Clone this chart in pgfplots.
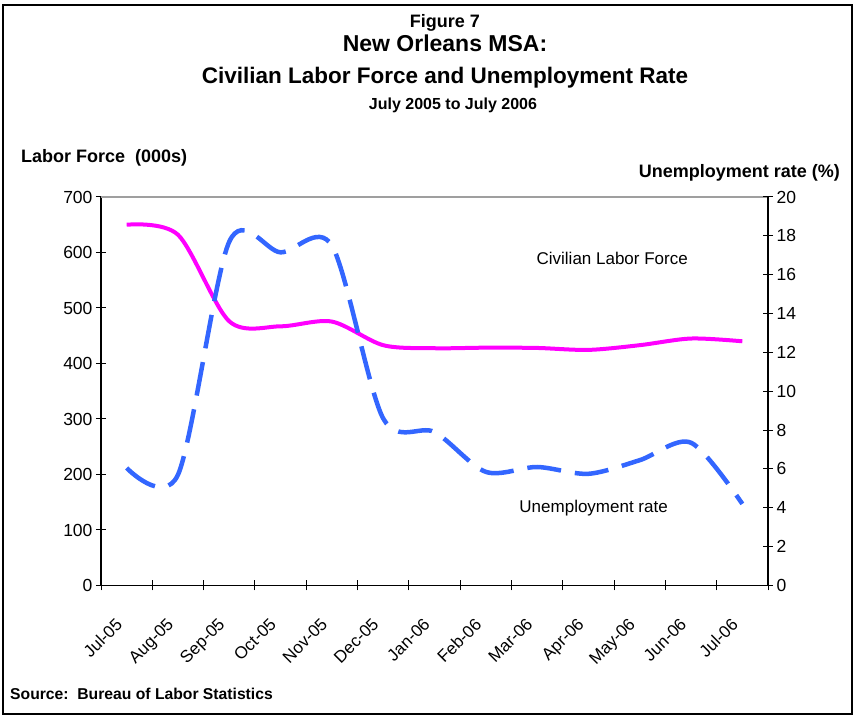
\documentclass[border=0pt]{standalone}
\usepackage{pgfplots}
\pgfplotsset{compat=1.18}
\usepackage{pgfplotstable}
\usepackage{fontspec}
\setmainfont{Liberation Sans}
\definecolor{lfmag}{RGB}{255,0,255}
\definecolor{urblue}{RGB}{51,102,255}

\pgfplotstableread{
x lf ur
0 650 6.05
1 632 5.7
2 476 17.7
3 467 17.15
4 475.5 17.5
5 433 8.6
6 427.5 7.9
7 428.5 5.85
8 428 6.1
9 424.5 5.75
10 433 6.45
11 445 7.35
12 440 4.2
}\datatable

\begin{document}
\begin{tikzpicture}[x=1pt,y=1pt]
\path[use as bounding box] (0,0) rectangle (857,719);
\draw[line width=1.3pt] (3,5) rectangle (852,714);

\node[anchor=base, font=\bfseries\fontsize{18}{18}\selectfont] at (445,691) {Figure 7};
\node[anchor=base, font=\bfseries\fontsize{23}{23}\selectfont] at (445,667) {New Orleans MSA:};
\node[anchor=base, font=\bfseries\fontsize{22.5}{22.5}\selectfont] at (445,635.5) {Civilian Labor Force and Unemployment Rate};
\node[anchor=base, font=\bfseries\fontsize{16}{16}\selectfont] at (453,609) {July 2005 to July 2006};

\node[anchor=base west, inner sep=0pt, font=\bfseries\fontsize{18}{18}\selectfont] at (21,556) {Labor Force\ \ (000s)};
\node[anchor=base east, inner sep=0pt, font=\bfseries\fontsize{18}{18}\selectfont] at (840,541) {Unemployment rate (\%)};

\node[anchor=base west, inner sep=0pt, font=\bfseries\fontsize{15.7}{15.7}\selectfont] at (10,19) {Source:\ \ Bureau of Labor Statistics};

\begin{axis}[
  at={(101pt,133.5pt)}, anchor=south west,
  scale only axis, width=667pt, height=388.5pt,
  xmin=-0.5, xmax=12.5, ymin=0, ymax=700,
  axis x line*=bottom, axis y line*=left,
  axis line style={line width=1.2pt, black},
  xtick={0,...,12},
  xticklabels={Jul-05,Aug-05,Sep-05,Oct-05,Nov-05,Dec-05,Jan-06,Feb-06,Mar-06,Apr-06,May-06,Jun-06,Jul-06},
  major x tick style={draw=none},
  minor xtick={-0.5,0.5,...,12.5},
  minor x tick style={black, line width=1pt},
  ytick={0,100,...,700},
  ytick style={black, line width=1pt},
  tick align=center, major tick length=10pt, minor tick length=10pt,
  xticklabel style={rotate=45, anchor=north east, inner sep=0pt, xshift=-27pt, yshift=-10pt, font=\fontsize{17}{17}\selectfont},
  yticklabel style={font=\fontsize{17.5}{17.5}\selectfont},
  /pgf/number format/assume math mode=true,
  clip=false,
]
\addplot[lfmag, line width=4pt, smooth, tension=0.5, line join=round] table[x=x, y=lf] {\datatable};
\draw[gray!75, line width=1.6pt] (rel axis cs:0,1) -- (rel axis cs:1,1);
\end{axis}

\begin{axis}[
  at={(101pt,133.5pt)}, anchor=south west,
  scale only axis, width=667pt, height=388.5pt,
  xmin=-0.5, xmax=12.5, ymin=0, ymax=20,
  axis x line=none, axis y line*=right,
  axis line style={line width=1.2pt, black},
  ytick={0,2,...,20},
  ytick style={black, line width=1pt},
  tick align=center, major tick length=10pt,
  yticklabel style={font=\fontsize{17.5}{17.5}\selectfont},
  /pgf/number format/assume math mode=true,
  clip=false,
]
\addplot[urblue, line width=4.5pt, smooth, tension=0.5, dash pattern=on 34pt off 14pt] table[x=x, y=ur] {\datatable};
\end{axis}

\node[anchor=base east, inner sep=0pt, font=\fontsize{17}{17}\selectfont] at (688,454) {Civilian Labor Force};
\node[anchor=base east, inner sep=0pt, font=\fontsize{17}{17}\selectfont] at (668,206) {Unemployment rate};
\end{tikzpicture}
\end{document}
